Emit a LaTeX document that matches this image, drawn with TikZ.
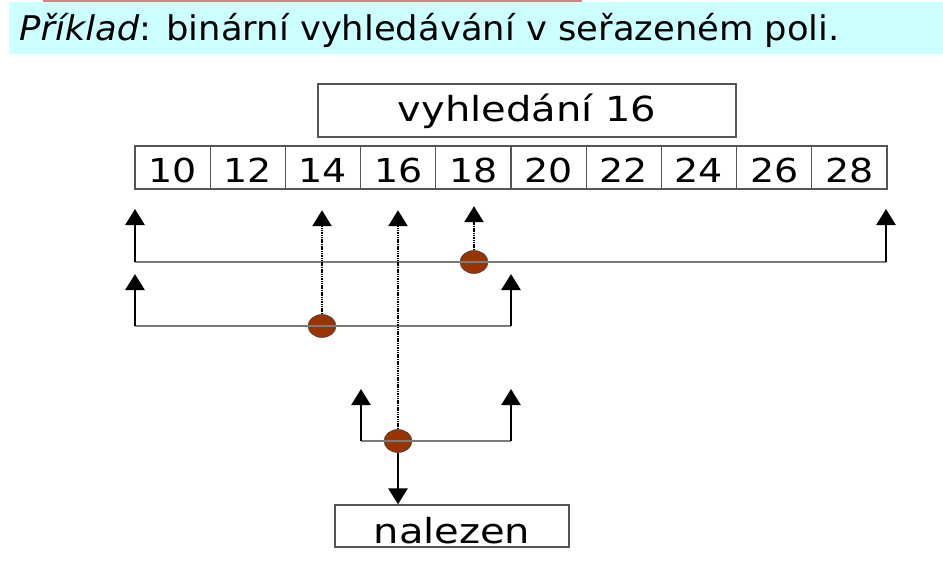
\documentclass[tikz,border=0pt]{standalone}
\usepackage{fontspec}
\setmainfont{DejaVu Sans}
\newfontfamily\titlefont{DejaVu Sans}[FakeStretch=1.04]
\newfontfamily\cellfont{DejaVu Sans}[FakeStretch=1.15]
\newfontfamily\boxfont{DejaVu Sans}[FakeStretch=1.16]
\usetikzlibrary{arrows.meta,shapes.geometric}
\definecolor{titlebg}{HTML}{CCFFFF}
\definecolor{redline}{HTML}{D98080}
\definecolor{boxline}{HTML}{555555}
\definecolor{hline}{HTML}{7A7A7A}
\definecolor{dotfill}{HTML}{993300}
\tikzset{
  cellbox/.style={draw=boxline,line width=1.3pt,minimum width=75.2pt,minimum height=43pt,inner sep=0pt,text height=29pt,text depth=0pt,font=\cellfont\fontsize{33}{33}\selectfont},
  labelbox/.style={draw=boxline,line width=1.3pt,inner sep=0pt,font=\boxfont\fontsize{34.5}{34.5}\selectfont},
  uparrow/.style={line width=2.6pt,-{Triangle[width=19pt,length=16pt]}},
  dotarrow/.style={line width=2.6pt,dash pattern=on 1.5pt off 0.8pt,-{Triangle[width=19pt,length=16pt]}},
  levelline/.style={draw=hline,line width=1.6pt},
  probe/.style={ellipse,draw=black!70,line width=0.6pt,fill=dotfill,minimum width=28pt,minimum height=23pt,inner sep=0pt},
}
\begin{document}
\begin{tikzpicture}[x=1pt,y=-1pt]
\useasboundingbox (0,0) rectangle (943,568);
% title
\fill[titlebg] (9,2) rectangle (943,54);
\fill[redline] (43,0) rectangle (582,2);
\node[anchor=base west,inner sep=0pt,font=\titlefont\fontsize{34}{34}\selectfont] (title) at (19,40) {\textit{Příklad}: binární vyhledávání v seřazeném poli.};
% search box
\node[labelbox,minimum width=418pt,minimum height=53pt,text height=29pt,text depth=8pt] (search) at (527,110.5) {vyhledání 16};
% array
\foreach \v [count=\i] in {10,12,14,16,18,20,22,24,26,28} {
  \node[cellbox] (c\i) at ({135+75.2*(\i-0.5)},167.5) {\v};
}
% level 1
\coordinate (a1) at (135,262);
\coordinate (b1) at (886,262);
\node[probe] (e1) at (474,262) {};
\draw[levelline] (a1) -- (b1);
\draw[uparrow] (a1) -- ++(0,-53);
\draw[uparrow] (b1) -- ++(0,-53);
\draw[dotarrow] (e1.north) -- ++(0,-44);
% level 2
\coordinate (a2) at (135,326);
\coordinate (b2) at (511,326);
\node[probe] (e2) at (322,326) {};
\draw[levelline] (a2) -- (b2);
\draw[uparrow] (a2) -- ++(0,-52);
\draw[uparrow] (b2) -- ++(0,-52);
\draw[dotarrow] (e2.north) -- ++(0,-104);
% level 3
\coordinate (a3) at (361,441);
\coordinate (b3) at (511,441);
\node[probe] (e3) at (398,441) {};
\draw[levelline] (a3) -- (b3);
\draw[uparrow] (a3) -- ++(0,-52);
\draw[uparrow] (b3) -- ++(0,-52);
\draw[dotarrow] (e3.north) -- ++(0,-219);
% found
\node[labelbox,minimum width=234pt,minimum height=42pt,text height=34pt,text depth=0pt] (found) at (452,526) {nalezen};
\draw[uparrow] (e3.south) -- (e3.south |- found.north);
\end{tikzpicture}
\end{document}
